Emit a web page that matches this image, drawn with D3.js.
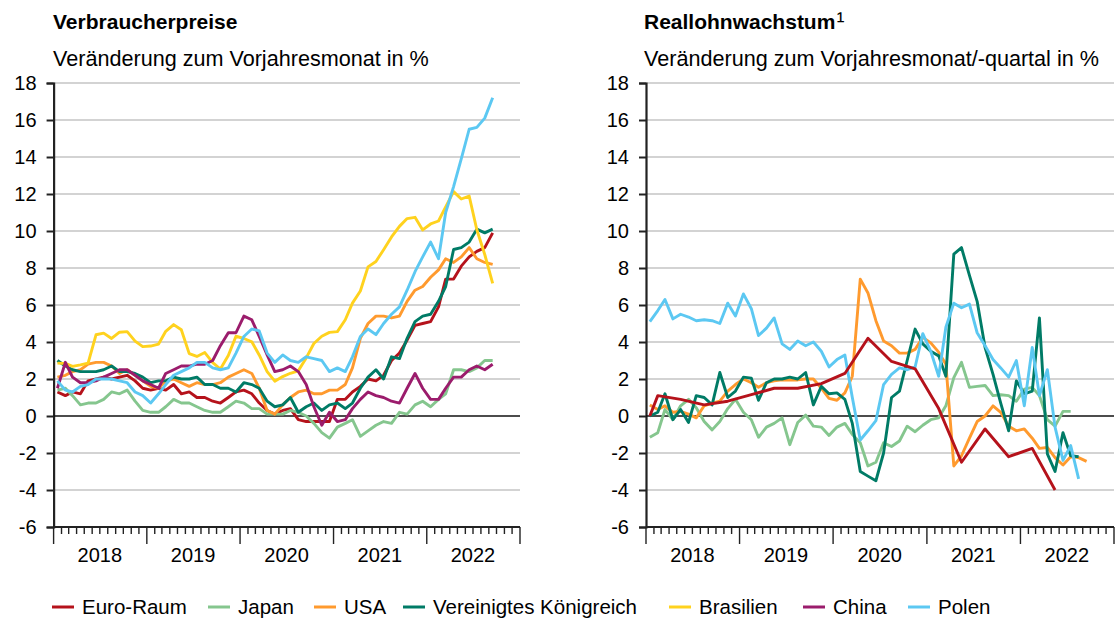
<!DOCTYPE html>
<html><head><meta charset="utf-8">
<script src="https://cdn.jsdelivr.net/npm/d3@7/dist/d3.min.js"></script>
<style>
body{margin:0;background:#fff}
text{font-family:"Liberation Sans",Arial,sans-serif;fill:#000}
</style>
</head><body>
<svg id="c" width="1116" height="619"></svg>
<script>
// ---------- data ----------
const yTicks = [18,16,14,12,10,8,6,4,2,0,-2,-4,-6];
const yearLabels = ["2018","2019","2020","2021","2022"];
const seriesNames = ["Euro-Raum","Japan","USA","Vereinigtes Königreich","Brasilien","China","Polen"];
const seriesColors = ["#b5121b","#85c68e","#ff9a2e","#007b66","#ffd21e","#9b1c6c","#5cc8f2"];

// Verbraucherpreise, monthly Jan 2018 – Sep 2022
const cpiEuro = [1.3,1.1,1.3,1.2,1.9,2.0,2.1,2.0,2.1,2.2,1.9,1.5, 1.4,1.5,1.4,1.7,1.2,1.3,1.0,1.0,0.8,0.7,1.0,1.3, 1.4,1.2,0.7,0.3,0.1,0.3,0.4,-0.2,-0.3,-0.3,-0.3,-0.3, 0.9,0.9,1.3,1.6,2.0,1.9,2.2,3.0,3.4,4.1,4.9,5.0, 5.1,5.9,7.4,7.4,8.1,8.6,8.9,9.1,9.9];
const cpiJapan = [1.4,1.5,1.1,0.6,0.7,0.7,0.9,1.3,1.2,1.4,0.8,0.3, 0.2,0.2,0.5,0.9,0.7,0.7,0.5,0.3,0.2,0.2,0.5,0.8, 0.7,0.4,0.4,0.1,0.1,0.1,0.3,0.2,0.0,-0.4,-0.9,-1.2, -0.6,-0.4,-0.2,-1.1,-0.8,-0.5,-0.3,-0.4,0.2,0.1,0.6,0.8, 0.5,0.9,1.2,2.5,2.5,2.4,2.6,3.0,3.0];
const cpiUSA = [2.1,2.2,2.4,2.5,2.8,2.9,2.9,2.7,2.3,2.5,2.2,1.9, 1.6,1.5,1.9,2.0,1.8,1.6,1.8,1.7,1.7,1.8,2.1,2.3, 2.5,2.3,1.5,0.3,0.1,0.6,1.0,1.3,1.4,1.2,1.2,1.4, 1.4,1.7,2.6,4.2,5.0,5.4,5.4,5.3,5.4,6.2,6.8,7.0, 7.5,7.9,8.5,8.3,8.6,9.1,8.5,8.3,8.2];
const cpiUK = [3.0,2.7,2.5,2.4,2.4,2.4,2.5,2.7,2.4,2.4,2.3,2.1, 1.8,1.9,1.9,2.1,2.0,2.0,2.1,1.7,1.7,1.5,1.5,1.3, 1.8,1.7,1.5,0.8,0.5,0.6,1.0,0.2,0.5,0.7,0.3,0.6, 0.7,0.4,0.7,1.5,2.1,2.5,2.0,3.2,3.1,4.2,5.1,5.4, 5.5,6.2,7.0,9.0,9.1,9.4,10.1,9.9,10.1];
const cpiBrasilien = [2.86,2.84,2.68,2.76,2.86,4.39,4.48,4.19,4.53,4.56,4.05,3.75, 3.78,3.89,4.58,4.94,4.66,3.37,3.22,3.43,2.89,2.54,3.27,4.31, 4.19,4.01,3.30,2.40,1.88,2.13,2.31,2.44,3.14,3.92,4.31,4.52, 4.56,5.20,6.10,6.76,8.06,8.35,8.99,9.68,10.25,10.67,10.74,10.06, 10.38,10.54,11.30,12.13,11.73,11.89,10.07,8.73,7.17];
const cpiChina = [1.5,2.9,2.1,1.8,1.8,1.9,2.1,2.3,2.5,2.5,2.2,1.9, 1.7,1.5,2.3,2.5,2.7,2.7,2.8,2.8,3.0,3.8,4.5,4.5, 5.4,5.2,4.3,3.3,2.4,2.5,2.7,2.4,1.7,0.5,-0.5,0.2, -0.3,-0.2,0.4,0.9,1.3,1.1,1.0,0.8,0.7,1.5,2.3,1.5, 0.9,0.9,1.5,2.1,2.1,2.5,2.7,2.5,2.8];
const cpiPolen = [1.9,1.4,1.3,1.6,1.7,2.0,2.0,2.0,1.9,1.8,1.3,1.1, 0.7,1.2,1.7,2.2,2.4,2.6,2.9,2.9,2.6,2.5,2.6,3.4, 4.3,4.7,4.6,3.4,2.9,3.3,3.0,2.9,3.2,3.1,3.0,2.4, 2.6,2.4,3.2,4.3,4.7,4.4,5.0,5.5,5.9,6.8,7.8,8.6, 9.4,8.5,11.0,12.4,13.9,15.5,15.6,16.1,17.2];

// Reallohnwachstum
const realEuroMonths = ["2018-01","2018-02","2018-05","2018-08","2018-11","2019-02","2019-05","2019-08","2019-11","2020-02","2020-05","2020-08","2020-11","2021-02","2021-05","2021-08","2021-11","2022-02","2022-05"];
const realEuro = [0.0,1.1,0.9,0.6,0.8,1.15,1.5,1.5,1.75,2.3,4.2,2.95,2.55,0.4,-2.5,-0.7,-2.2,-1.75,-4.0];
const realJapan = [-1.15,-0.9,0.35,-0.2,0.55,0.9,0.45,-0.3,-0.75,-0.3,0.4,0.9, 0.2,-0.2,-1.15,-0.6,-0.4,-0.1,-1.55,-0.35,0.05,-0.55,-0.6,-1.05, -0.6,-0.4,-1.0,-1.45,-2.7,-2.5,-1.45,-1.65,-1.35,-0.55,-0.85,-0.5, -0.2,-0.1,0.55,2.07,2.9,1.55,1.6,1.65,1.1,1.15,1.1,0.8, 1.45,1.55,1.1,-0.2,-0.55,0.25,0.25];
const realUSA = [0.6,0.35,0.55,0.2,0.25,0.1,-0.1,0.55,0.7,0.8,1.35,1.7, 2.0,1.8,1.55,1.8,1.9,1.95,1.95,1.95,2.0,2.0,1.5,0.95, 0.85,1.25,2.15,7.4,6.65,5.15,4.05,3.8,3.4,3.4,3.6,4.25, 3.95,3.45,2.8,-2.7,-2.15,-1.2,-0.3,0.0,0.55,0.2,-0.55,-0.8, -0.7,-1.2,-1.75,-1.7,-2.25,-2.65,-2.2,-2.25,-2.45];
const realUK = [0.0,0.2,1.2,-0.2,0.35,-0.35,1.1,1.0,0.6,2.35,1.0,1.35, 2.1,2.05,0.85,1.8,2.0,2.0,2.1,2.0,2.35,0.6,1.6,1.2, 1.25,0.9,-0.4,-3.0,-3.25,-3.5,-2.0,1.0,1.35,3.0,4.7,3.9, 3.5,3.25,2.15,8.75,9.1,7.6,6.2,3.7,2.25,0.7,-0.8,1.9, 1.2,1.35,5.3,-2.05,-3.0,-0.9,-2.15,-2.2];
const realPolen = [5.1,5.7,6.3,5.25,5.5,5.35,5.15,5.2,5.15,5.0,6.1,5.4, 6.6,5.8,4.35,4.75,5.3,3.9,3.6,4.05,3.8,4.0,3.5,2.65, 3.05,3.3,1.0,-1.3,-0.8,-0.25,1.7,2.25,2.6,2.5,2.65,4.45, 3.5,2.15,4.8,6.1,5.85,6.05,4.5,3.8,3.05,2.6,2.1,3.0, 0.55,3.7,1.1,2.5,-0.6,-2.4,-1.6,-3.4];

// ---------- helpers ----------
const svg = d3.select("#c");
const parseMonth = d3.timeParse("%Y-%m");
const startMonth = new Date(2018,0,1);
function monthsFrom(n){ return d3.timeMonth.range(startMonth, d3.timeMonth.offset(startMonth,n)); }
function mid(d){ return new Date(d.getFullYear(), d.getMonth(), 16); }

function drawPanel(o){
  const x = d3.scaleTime().domain([new Date(2018,0,1), new Date(2023,0,1)]).range([o.x0, o.x1]);
  const y = d3.scaleLinear().domain([-6,18]).range([527,83]);
  const g = svg.append("g");

  const t = g.append("text").attr("x",o.tx).attr("y",29).attr("font-size",21).attr("font-weight","bold").text(o.title);
  if (o.sup) t.append("tspan").attr("font-size",24).attr("font-weight","normal").attr("dx",1).text(o.sup);
  g.append("text").attr("x",o.tx).attr("y",66).attr("font-size",21.6).text(o.subtitle);

  // grid
  g.selectAll("line.grid").data(yTicks.filter(v=>v!==-6 && v!==0)).join("line")
    .attr("x1",o.x0).attr("x2",o.x1).attr("y1",d=>y(d)).attr("y2",d=>y(d))
    .attr("stroke","#c4c4c4").attr("stroke-width",1.5);

  // y axis
  const ya = g.append("g").attr("transform",`translate(${o.x0},0)`)
    .call(d3.axisLeft(y).tickValues(yTicks).tickSize(7).tickPadding(10).tickFormat(d=>d));
  ya.select(".domain").attr("stroke","#222").attr("stroke-width",2.2);
  ya.selectAll(".tick line").attr("stroke","#222").attr("stroke-width",2);
  ya.selectAll(".tick text").attr("font-size",20).attr("font-family",'"Liberation Sans",Arial,sans-serif').attr("fill","#000");

  // zero line
  g.append("line").attr("x1",o.x0).attr("x2",o.x1).attr("y1",y(0)).attr("y2",y(0)).attr("stroke","#111").attr("stroke-width",1.6);

  // x axis
  const xa = g.append("g").attr("transform",`translate(0,${y(-6)})`);
  xa.append("line").attr("x1",o.x0).attr("x2",o.x1).attr("stroke","#222").attr("stroke-width",2);
  const minor = d3.timeMonth.range(new Date(2018,0,1), new Date(2023,0,2));
  xa.selectAll("line.mi").data(minor).join("line")
    .attr("x1",d=>x(d)).attr("x2",d=>x(d)).attr("y1",0)
    .attr("y2",d=>d.getMonth()===0?17:7).attr("stroke","#222").attr("stroke-width",1.4);
  xa.selectAll("text.yr").data(yearLabels).join("text")
    .attr("x",d=>x(new Date(+d,6,1))).attr("y",35).attr("text-anchor","middle").attr("font-size",20).text(d=>d);

  const line = d3.line().x(p=>x(mid(p[0]))).y(p=>y(p[1]));
  o.series.forEach(s=>{
    g.append("path").attr("d",line(s.dates.map((d,i)=>[d,s.values[i]])))
      .attr("fill","none").attr("stroke",s.color).attr("stroke-width",2.9).attr("stroke-linejoin","round");
  });
}

const col = n => seriesColors[seriesNames.indexOf(n)];
const leftValues = [cpiEuro,cpiJapan,cpiUSA,cpiUK,cpiBrasilien,cpiChina,cpiPolen];
drawPanel({
  x0:53.6, x1:520, tx:53, title:"Verbraucherpreise", subtitle:"Veränderung zum Vorjahresmonat in %",
  series: seriesNames.map((n,i)=>({color:seriesColors[i], values:leftValues[i], dates:monthsFrom(leftValues[i].length)}))
});
drawPanel({
  x0:646, x1:1114, tx:644, title:"Reallohnwachstum", sup:"¹", subtitle:"Veränderung zum Vorjahresmonat/-quartal in %",
  series: [
    {color:col("Japan"), values:realJapan, dates:monthsFrom(realJapan.length)},
    {color:col("USA"), values:realUSA, dates:monthsFrom(realUSA.length)},
    {color:col("Vereinigtes Königreich"), values:realUK, dates:monthsFrom(realUK.length)},
    {color:col("Polen"), values:realPolen, dates:monthsFrom(realPolen.length)},
    {color:col("Euro-Raum"), values:realEuro, dates:realEuroMonths.map(parseMonth)}
  ]
});

// legend
const legendX = [52,208,314,403,669,803,908];
const lg = svg.append("g");
seriesNames.forEach((n,i)=>{
  lg.append("line").attr("x1",legendX[i]).attr("x2",legendX[i]+22).attr("y1",607).attr("y2",607).attr("stroke",seriesColors[i]).attr("stroke-width",3);
  lg.append("text").attr("x",legendX[i]+30).attr("y",614).attr("font-size",20.5).text(n);
});
</script>
</body></html>
